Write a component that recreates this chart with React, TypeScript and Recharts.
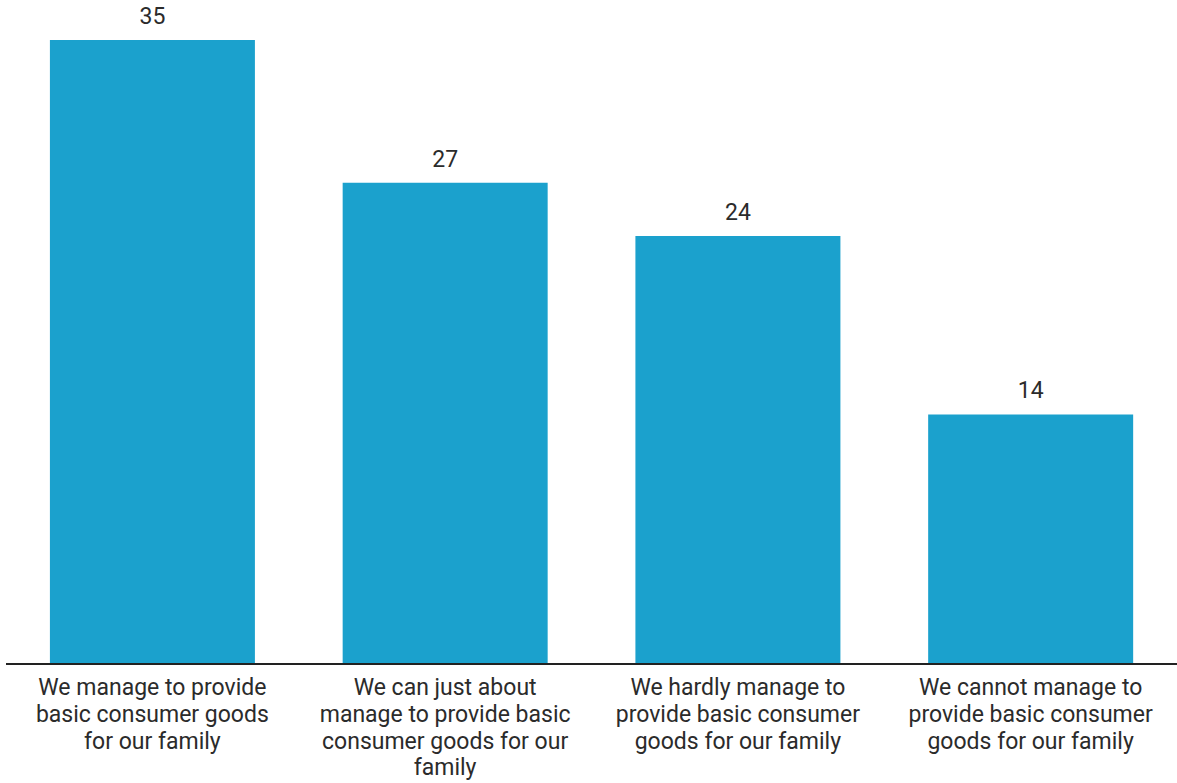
import React from 'react';
import { BarChart, Bar, XAxis, YAxis, LabelList } from 'recharts';

const categories = [
    'We manage to provide basic consumer goods for our family',
    'We can just about manage to provide basic consumer goods for our family',
    'We hardly manage to provide basic consumer goods for our family',
    'We cannot manage to provide basic consumer goods for our family',
];

// tick label lines, as wrapped in the original
const categoryLines = [
    ['We manage to provide', 'basic consumer goods', 'for our family'],
    ['We can just about', 'manage to provide basic', 'consumer goods for our', 'family'],
    ['We hardly manage to', 'provide basic consumer', 'goods for our family'],
    ['We cannot manage to', 'provide basic consumer', 'goods for our family'],
];

const values = [35, 27, 24, 14];

const data = categories.map((name, i) => ({ name, lines: categoryLines[i], value: values[i] }));

const FONT = 'Roboto, "Noto Sans", sans-serif';

const WrappedTick = ({ x, y, index }: any) => {
    const lines = categoryLines[index] || [];
    return (
        <text x={x} y={y} textAnchor="middle" fill="#2b2b2b" fontSize={23} fontFamily={FONT}>
            {lines.map((line, i) => (
                <tspan key={i} x={x} dy={i === 0 ? 31 : 26.8}>{line}</tspan>
            ))}
        </text>
    );
};

const App: React.FC = () => {
    return (
        <div style={{ position: 'absolute', left: 0, top: 0, width: 1177, height: 783, background: '#fff' }}>
            <BarChart
                width={1177}
                height={783}
                data={data}
                margin={{ top: 40, right: 0, bottom: 0, left: 6 }}
                barCategoryGap="15%"
            >
                <XAxis
                    dataKey="name"
                    interval={0}
                    height={119}
                    tickLine={false}
                    tickSize={0}
                    tickMargin={0}
                    axisLine={{ stroke: '#222', strokeWidth: 2 }}
                    tick={<WrappedTick />}
                />
                <YAxis hide domain={[0, 35]} />
                <Bar dataKey="value" fill="#1ba1cd" isAnimationActive={false}>
                    <LabelList
                        dataKey="value"
                        position="top"
                        offset={16}
                        fill="#2b2b2b"
                        fontSize={23}
                        fontFamily={FONT}
                    />
                </Bar>
            </BarChart>
        </div>
    );
};

export default App;
